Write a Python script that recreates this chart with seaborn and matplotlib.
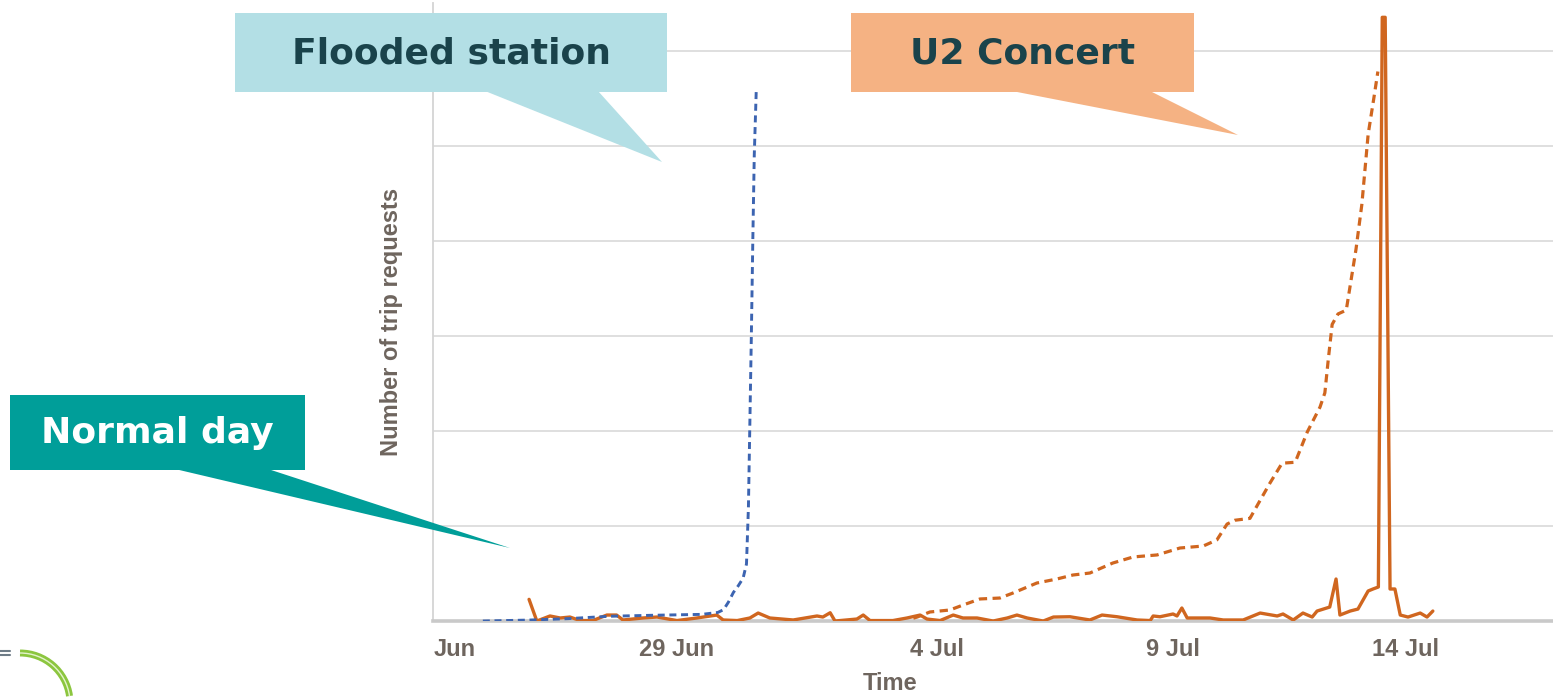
import numpy as np
import pandas as pd
import matplotlib
matplotlib.use("Agg")
import matplotlib.pyplot as plt
import seaborn as sns
from matplotlib.patches import Rectangle, Polygon, Arc

# time axis: days relative to 29 Jun
tick_pos = [-4.72, -0.16, 5.19, 10.03, 14.82]
tick_labels = ["Jun", "29 Jun", "4 Jul", "9 Jul", "14 Jul"]

# flooded station (blue dashed)
flood_t = [-4.15, -3.2, -2.4, -1.55, -0.7, 0.35, 0.68, 0.8, 0.9, 1.0,
           1.1, 1.2, 1.27, 1.31, 1.34, 1.37, 1.40, 1.43, 1.47]
flood_v = [0, 1, 2.5, 5, 6, 7, 9, 12, 20, 30,
           37, 45, 60, 120, 210, 300, 400, 490, 557]

# U2 concert build-up (orange dashed)
concert_t = [4.7, 4.78, 5.04, 5.45, 5.72, 6.07, 6.48, 6.75, 7.24, 7.65, 7.98,
             8.33, 8.80, 9.22, 9.71, 10.18, 10.66, 10.94, 11.15, 11.31, 11.62,
             11.83, 12.03, 12.28, 12.55, 12.80, 13.06, 13.16, 13.23, 13.31,
             13.43, 13.60, 13.80, 13.92, 14.05, 14.17, 14.25]
concert_v = [3, 4.2, 9.5, 11.6, 16.8, 23.2, 24.2, 29.5, 40, 44.2, 48.4,
             50.5, 61, 67.4, 69.5, 76.8, 78.9, 85.3, 102, 106, 108,
             127, 145, 166, 167, 199, 225, 240, 275, 312,
             323, 327, 391, 438, 512, 551, 578]

# normal demand (orange solid)
normal_t = [-3.20, -3.04, -2.77, -2.56, -2.36, -2.15, -1.89, -1.60, -1.40, -1.27,
            -0.86, -0.57, -0.16, 0.25, 0.66, 0.79, 1.08, 1.34, 1.51, 1.75,
            2.23, 2.72, 2.84, 2.99, 3.09, 3.54, 3.67, 3.81, 4.28, 4.57,
            4.84, 4.98, 5.25, 5.52, 5.72, 6.01, 6.34, 6.63, 6.83, 7.04,
            7.37, 7.58, 7.92, 8.33, 8.58, 8.89, 9.30, 9.57, 9.63, 9.77,
            10.04, 10.12, 10.22, 10.33, 10.80, 11.07, 11.48, 11.83, 12.18, 12.30,
            12.51, 12.71, 12.90, 13.00, 13.26, 13.39, 13.47, 13.68, 13.84, 14.05,
            14.15, 14.26, 14.34, 14.40, 14.50, 14.60, 14.71, 14.87, 15.12, 15.26,
            15.38]
normal_v = [22.8, 0, 5.3, 3.2, 4.2, 0.5, 0.5, 6.3, 6.3, 1.1,
            3.2, 4.2, 0.5, 3.2, 6.3, 1.1, 0.5, 3.2, 8.4, 3.2,
            1.1, 5.3, 4.2, 8.7, 0, 2.1, 6.3, 0.5, 0.5, 3.2,
            6.3, 2.1, 0.5, 6.3, 3.2, 3.2, 0, 3.2, 6.3, 3.2,
            0, 4.2, 4.5, 1.1, 6.3, 4.5, 1.1, 0.5, 5.3, 4.5,
            7.4, 5.3, 13.7, 3.2, 3.2, 1.1, 1.1, 8.4, 5.3, 7.4,
            1.1, 8.4, 4.2, 10.5, 14.7, 44.2, 6.3, 10.5, 12.6, 31.6,
            33.7, 35.8, 635, 635, 33.7, 33.7, 6.3, 4.2, 8.4, 4.2,
            10.5]

orange = "#d0661f"
blue = "#3c64b1"
axis_grey = "#6e655e"

sns.set_theme(style="white")
plt.rcParams["font.family"] = ["Liberation Sans", "DejaVu Sans"]

fig = plt.figure(figsize=(15.53, 6.97), dpi=100)
ax = fig.add_axes([0.2788, 0.109, 0.7212, 0.8866])

df_flood = pd.DataFrame({"t": flood_t, "v": flood_v})
df_concert = pd.DataFrame({"t": concert_t, "v": concert_v})
df_normal = pd.DataFrame({"t": normal_t, "v": normal_v})

sns.lineplot(data=df_normal, x="t", y="v", ax=ax, color=orange, lw=2.4,
             solid_joinstyle="round", solid_capstyle="round", zorder=3)
sns.lineplot(data=df_concert, x="t", y="v", ax=ax, color=orange, lw=2.3,
             linestyle=(0, (2.6, 1.7)), zorder=3)
sns.lineplot(data=df_flood, x="t", y="v", ax=ax, color=blue, lw=2.1,
             linestyle=(0, (2.4, 1.6)), zorder=3)

ax.set_xlim(-5.175, 17.85)
ax.set_ylim(0, 650)
ax.set_yticks(np.arange(0, 601, 100))
ax.set_yticklabels([])
ax.set_xticks(tick_pos)
ax.set_xticklabels(tick_labels, fontsize=17, fontweight="bold", color=axis_grey)
ax.tick_params(axis="both", length=0)
ax.tick_params(axis="x", pad=12)
ax.yaxis.grid(True, color="#dcdcdc", lw=1.3)
ax.xaxis.grid(False)

for side in ["top", "right"]:
    ax.spines[side].set_visible(False)
ax.spines["left"].set_color("#d4d4d4")
ax.spines["left"].set_linewidth(1.3)
ax.spines["bottom"].set_color("#c9c9c9")
ax.spines["bottom"].set_linewidth(2.6)

ax.set_xlabel("Time", fontsize=17, fontweight="bold", color=axis_grey)
ax.xaxis.set_label_coords(0.408, -0.082)
ax.set_ylabel("Number of trip requests", fontsize=17, fontweight="bold", color=axis_grey)
ax.yaxis.set_label_coords(-0.027, 0.484)

# callout overlay in pixel layout
ov = fig.add_axes([0, 0, 1, 1], zorder=5)
ov.set_xlim(0, 1553)
ov.set_ylim(697, 0)
ov.axis("off")

dark = "#1a434b"
callouts = [
    # text, box (x0, y0, x1, y1), wedge points, face, text colour
    ("Flooded station", (235, 13, 667, 92), [(485, 91), (598, 91), (662, 162)], "#b3dfe5", dark),
    ("U2 Concert", (851, 13, 1194, 92), [(1012, 91), (1150, 91), (1238, 135)], "#f5b283", dark),
    ("Normal day", (10, 395, 305, 470), [(175, 469), (268, 469), (510, 548)], "#009e99", "white"),
]
for txt, (x0, y0, x1, y1), wedge, face, tcol in callouts:
    ov.add_patch(Rectangle((x0, y0), x1 - x0, y1 - y0, facecolor=face, edgecolor="none"))
    ov.add_patch(Polygon(wedge, closed=True, facecolor=face, edgecolor="none"))
    ov.text((x0 + x1) / 2, (y0 + y1) / 2 + 1, txt, ha="center", va="center",
            fontsize=26, fontweight="bold", color=tcol, family="DejaVu Sans")

# small logo fragment bottom-left
ov.plot([0, 10], [651, 651], color="#6d7b86", lw=1.5)
ov.plot([0, 10], [655, 655], color="#6d7b86", lw=1.5)
ov.add_patch(Arc((20, 703), 100, 100, theta1=270, theta2=352, color="#8cc63f", lw=5))
ov.add_patch(Arc((20, 703), 100, 100, theta1=270, theta2=352, color="#e3f3cc", lw=1))

fig.savefig("out.png", dpi=100)
